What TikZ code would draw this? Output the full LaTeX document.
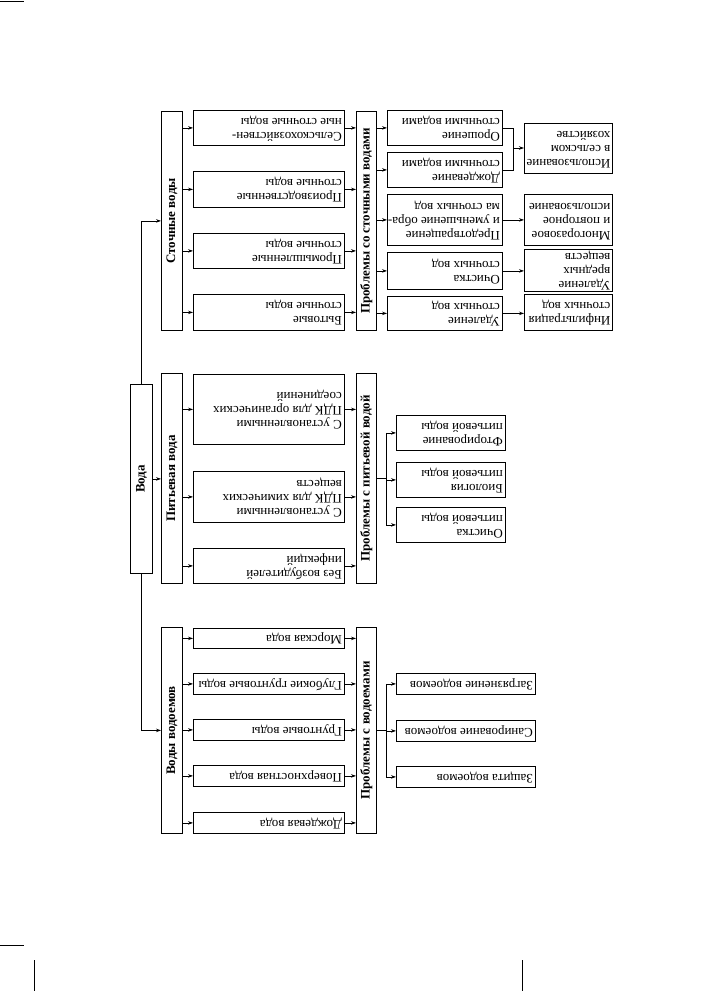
\documentclass[tikz,border=0pt]{standalone}
\usepackage{fontspec}
\setmainfont{Liberation Serif}
\usetikzlibrary{arrows.meta}
\newcommand{\ut}[2]{\rotatebox[origin=c]{180}{\makebox[#1][l]{\fontsize{13}{14}\selectfont\begin{tabular}{@{}l@{}}#2\end{tabular}}}}
\newcommand{\vt}[1]{\rotatebox{90}{#1}}
\begin{document}
\begin{tikzpicture}[x=1pt,y=-1pt,
  box/.style={draw, line width=0.8pt, inner sep=0pt, anchor=north west},
  hdr/.style={draw, line width=0.8pt, inner sep=0pt, anchor=north west, font=\fontsize{13}{15}\selectfont\bfseries},
  arr/.style={line width=0.8pt, -{Stealth[length=5pt,width=3.5pt]}},
  ln/.style={line width=0.8pt},
  cropmark/.style={line width=1pt}]
\useasboundingbox (0,0) rectangle (711,991);
\fill[white] (0,0) rectangle (711,991);
% root
\node[hdr, minimum width=22pt, minimum height=189pt] (voda) at (130,384) {\vt{Вода}};
% column 1 headers
\node[hdr, minimum width=21pt, minimum height=219pt] (s1) at (161,111) {\vt{Сточные воды}};
\node[hdr, minimum width=21pt, minimum height=210pt] (s2) at (161,373) {\vt{Питьевая вода}};
\node[hdr, minimum width=21pt, minimum height=206pt] (s3) at (161,627) {\vt{Воды водоемов}};
% column 2
\node[box, minimum width=151pt, minimum height=35pt] (a1) at (193,110) {\ut{146pt}{Сельскохозяйствен-\\ные сточные воды}};
\node[box, minimum width=151pt, minimum height=36pt] (a2) at (193,171) {\ut{146pt}{Производственные\\сточные воды}};
\node[box, minimum width=151pt, minimum height=35pt] (a3) at (193,233) {\ut{146pt}{Промышленные\\сточные воды}};
\node[box, minimum width=151pt, minimum height=36pt] (a4) at (193,294) {\ut{146pt}{Бытовые\\сточные воды}};
\node[box, minimum width=151pt, minimum height=70pt] (b1) at (193,374) {\ut{146pt}{С установленными\\ПДК для органических\\соединений}};
\node[box, minimum width=151pt, minimum height=51pt] (b2) at (193,471) {\ut{146pt}{С установленными\\ПДК для химических\\веществ}};
\node[box, minimum width=151pt, minimum height=35pt] (b3) at (193,548) {\ut{146pt}{Без возбудителей\\инфекций}};
\node[box, minimum width=151pt, minimum height=20pt] (c1) at (193,628) {\ut{146pt}{Морская вода}};
\node[box, minimum width=151pt, minimum height=21pt] (c2) at (193,673) {\ut{146pt}{Глубокие грунтовые воды}};
\node[box, minimum width=151pt, minimum height=21pt] (c3) at (193,719) {\ut{146pt}{Грунтовые воды}};
\node[box, minimum width=151pt, minimum height=21pt] (c4) at (193,765) {\ut{146pt}{Поверхностная вода}};
\node[box, minimum width=151pt, minimum height=21pt] (c5) at (193,812) {\ut{146pt}{Дождевая вода}};
% problems headers
\node[hdr, minimum width=20pt, minimum height=219pt] (p1) at (356,111) {\vt{Проблемы со сточными водами}};
\node[hdr, minimum width=20pt, minimum height=210pt] (p2) at (356,373) {\vt{Проблемы с питьевой водой}};
\node[hdr, minimum width=20pt, minimum height=206pt] (p3) at (356,627) {\vt{Проблемы с водоемами}};
% column 4
\node[box, minimum width=115pt, minimum height=35pt] (d1) at (387,110) {\ut{110pt}{Орошение\\сточными водами}};
\node[box, minimum width=115pt, minimum height=35pt] (d2) at (387,152) {\ut{110pt}{Дождевание\\сточными водами}};
\node[box, minimum width=115pt, minimum height=51pt] (d3) at (387,194) {\ut{110pt}{Предотвращение\\и уменьшение обра-\\ма сточных вод}};
\node[box, minimum width=115pt, minimum height=37pt] (d4) at (387,252) {\ut{110pt}{Очистка\\сточных вод}};
\node[box, minimum width=115pt, minimum height=34pt] (d5) at (387,296) {\ut{110pt}{Удаление\\сточных вод}};
\node[box, minimum width=109pt, minimum height=35pt] (f1) at (396,415) {\ut{104pt}{Фторирование\\питьевой воды}};
\node[box, minimum width=109pt, minimum height=35pt] (f2) at (396,462) {\ut{104pt}{Биология\\питьевой воды}};
\node[box, minimum width=109pt, minimum height=35pt] (f3) at (396,507) {\ut{104pt}{Очистка\\питьевой воды}};
\node[box, minimum width=139pt, minimum height=21pt] (g1) at (396,673) {\ut{134pt}{Загрязнение водоемов}};
\node[box, minimum width=139pt, minimum height=21pt] (g2) at (396,720) {\ut{134pt}{Санирование водоемов}};
\node[box, minimum width=139pt, minimum height=21pt] (g3) at (396,766) {\ut{134pt}{Защита водоемов}};
% column 5
\node[box, minimum width=88pt, minimum height=50pt] (e1) at (524,123) {\ut{84pt}{Использование\\в сельском\\хозяйстве}};
\node[box, minimum width=88pt, minimum height=51pt] (e2) at (524,194) {\ut{84pt}{Многоразовое\\и повторное\\использование}};
\node[box, minimum width=88pt, minimum height=42pt] (e3) at (524,249) {\ut{84pt}{Удаление\\вредных\\веществ}};
\node[box, minimum width=88pt, minimum height=36pt] (e4) at (524,294) {\ut{84pt}{Инфильтрация\\сточных вод}};
% connectors from root
\draw[arr] (voda.north) |- (s1.west);
\draw[arr] (voda.east) -- (voda.east -| s2.west);
\draw[arr] (voda.south) |- (s3.west);
% headers to column 2
\foreach \b in {a1,a2,a3,a4} \draw[arr] (s1.east |- \b.west) -- (\b.west);
\foreach \b in {b1,b2,b3} \draw[arr] (s2.east |- \b.west) -- (\b.west);
\foreach \b in {c1,c2,c3,c4,c5} \draw[arr] (s3.east |- \b.west) -- (\b.west);
% column 2 to problems
\foreach \b in {a1,a2,a3,a4} \draw[arr] (\b.east) -- (\b.east -| p1.west);
\foreach \b in {b1,b2,b3} \draw[arr] (\b.east) -- (\b.east -| p2.west);
\foreach \b in {c1,c2,c3,c4,c5} \draw[arr] (\b.east) -- (\b.east -| p3.west);
% problems to column 4
\foreach \b in {d1,d2,d3,d4,d5} \draw[arr] (p1.east |- \b.west) -- (\b.west);
\coordinate (jp) at (386,478);
\draw[ln] (p2.east |- jp) -- (jp);
\draw[ln] (jp |- f1.west) -- (jp |- f3.west);
\foreach \b in {f1,f2,f3} \draw[arr] (jp |- \b.west) -- (\b.west);
\coordinate (jv) at (386,730);
\draw[ln] (p3.east |- jv) -- (jv);
\draw[ln] (jv |- g1.west) -- (jv |- g3.west);
\foreach \b in {g1,g2,g3} \draw[arr] (jv |- \b.west) -- (\b.west);
% column 4 to column 5
\coordinate (j1) at (513,148);
\draw[ln] (d1.east) -| (j1);
\draw[ln] (d2.east) -| (j1);
\draw[arr] (j1) -- (j1 -| e1.west);
\draw[arr] (d3.east) -- (d3.east -| e2.west);
\draw[arr] (d4.east) -- (d4.east -| e3.west);
\draw[arr] (d5.east) -- (d5.east -| e4.west);
% page marks
\draw[cropmark] (0,1) -- (24,1);
\draw[cropmark] (0,945) -- (24,945);
\draw[cropmark] (34,960) -- (34,991);
\draw[cropmark] (522,960) -- (522,991);
\end{tikzpicture}
\end{document}
